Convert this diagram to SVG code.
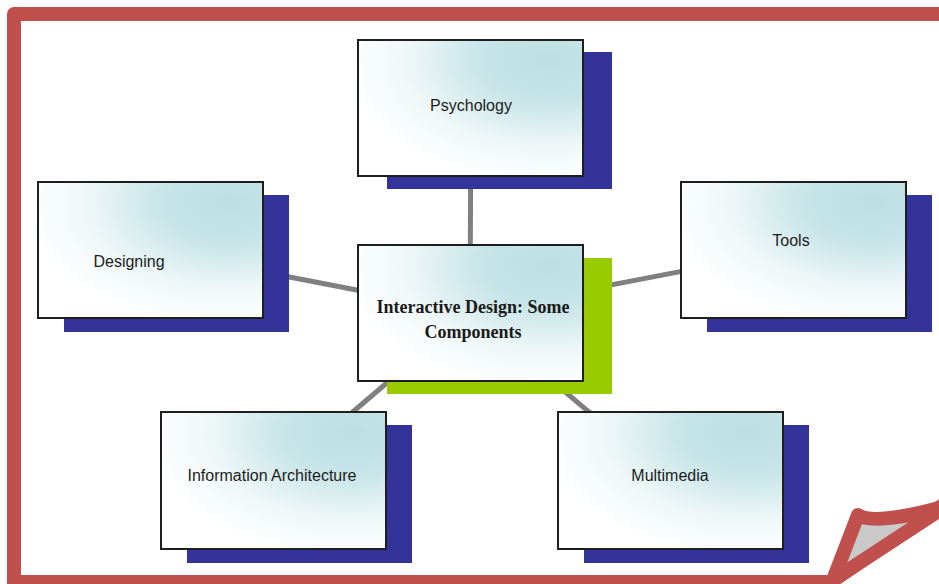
<svg xmlns="http://www.w3.org/2000/svg" width="939" height="584" viewBox="0 0 939 584">
<style>
.frame{fill:none;stroke:#c0504d;stroke-width:14;stroke-linejoin:round}
.fold{fill:#c9c9c9;stroke:#c0504d;stroke-width:14;stroke-linejoin:round}
.box{fill:url(#g);stroke:#1e1e1e;stroke-width:2}
.sh{fill:#333399}
.shg{fill:#99cc00}
.lbl{font-family:"Liberation Sans",Arial,sans-serif;font-size:16px;fill:#1c1c1c;text-anchor:middle}
.ttl{font-family:"Liberation Serif","Times New Roman",serif;font-size:18px;font-weight:bold;fill:#1a1a1a;text-anchor:middle}
.con line{stroke:#808080;stroke-width:5}
</style>
<defs>
<radialGradient id="g" cx="0.85" cy="0.15" r="0.9">
<stop offset="0" stop-color="#bcdfe3"/>
<stop offset="0.35" stop-color="#c8e5e8"/>
<stop offset="0.7" stop-color="#eef7f7"/>
<stop offset="1" stop-color="#ffffff"/>
</radialGradient>
</defs>
<rect width="939" height="584" fill="#ffffff"/>
<g id="frame">
<path class="frame" d="M14,14 L946,14 L946,503 L831,582 L14,582 Z"/>
<path class="fold" d="M858,515 Q874,526 946,506 L833,580 Z"/>
</g>
<g class="con" id="connectors">
<line x1="470" y1="312" x2="471" y2="107"/>
<line x1="470" y1="312" x2="150" y2="250"/>
<line x1="470" y1="312" x2="793" y2="250"/>
<line x1="470" y1="312" x2="273" y2="480"/>
<line x1="470" y1="312" x2="670" y2="480"/>
</g>
<g id="psychology">
<rect class="sh" x="387" y="52" width="225" height="137"/>
<rect class="box" x="358" y="40" width="225" height="136"/>
<text class="lbl" x="471" y="111">Psychology</text>
</g>
<g id="designing">
<rect class="sh" x="64" y="195" width="225" height="137"/>
<rect class="box" x="38" y="182" width="225" height="136"/>
<text class="lbl" x="129" y="267">Designing</text>
</g>
<g id="tools">
<rect class="sh" x="707" y="195" width="225" height="137"/>
<rect class="box" x="681" y="182" width="225" height="136"/>
<text class="lbl" x="791" y="246">Tools</text>
</g>
<g id="center">
<rect class="shg" x="387" y="258" width="225" height="136"/>
<rect class="box" x="358" y="245" width="225" height="136"/>
<text class="ttl" x="473" y="313">Interactive Design: Some</text>
<text class="ttl" x="473" y="338">Components</text>
</g>
<g id="information-architecture">
<rect class="sh" x="187" y="425" width="225" height="138"/>
<rect class="box" x="161" y="412" width="225" height="137"/>
<text class="lbl" x="272" y="481">Information Architecture</text>
</g>
<g id="multimedia">
<rect class="sh" x="584" y="425" width="225" height="138"/>
<rect class="box" x="558" y="412" width="225" height="137"/>
<text class="lbl" x="670" y="481">Multimedia</text>
</g>
</svg>
